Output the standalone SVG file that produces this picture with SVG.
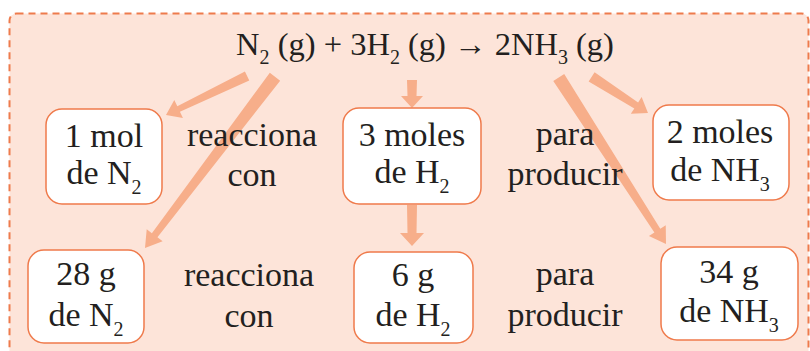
<svg xmlns="http://www.w3.org/2000/svg" width="810" height="351" viewBox="0 0 810 351">
<style>
.bg{fill:#fde4d9;stroke:#ee7b4c;stroke-width:2;stroke-dasharray:7,5}
.box{fill:#ffffff;stroke:#ef7a4b;stroke-width:1.5}
.arr{fill:#f7ae8a}
text{font-family:"Liberation Serif","Times New Roman",serif;font-size:34px;fill:#231f20;text-anchor:middle}
.eq{font-size:32.5px}
.sub{font-size:20px}
</style>
<rect class="bg" x="9.5" y="13.5" width="799" height="360" rx="7"/>
<g id="connectors">
<polygon class="arr" transform="translate(166,115) rotate(154.3)" points="0,0 -14,-10 -14,-3 -90,-5 -90,5 -14,3 -14,10"/>
<polygon class="arr" transform="translate(145,248) rotate(127.2)" points="0,0 -16,-10 -16,-3.5 -215,-6.5 -215,6.5 -16,3.5 -16,10"/>
<polygon class="arr" transform="translate(412,108) rotate(90)" points="0,0 -12,-11 -12,-4.5 -28,-5 -28,5 -12,4.5 -12,11"/>
<polygon class="arr" transform="translate(666,244) rotate(57.2)" points="0,0 -16,-10 -16,-3.5 -198,-6.5 -198,6.5 -16,3.5 -16,10"/>
<polygon class="arr" transform="translate(648,113) rotate(32.7)" points="0,0 -14,-10 -14,-3.5 -67,-5.5 -67,5.5 -14,3.5 -14,10"/>
<polygon class="arr" transform="translate(412,246) rotate(90)" points="0,0 -13,-12 -13,-4.5 -41,-5 -41,5 -13,4.5 -13,12"/>
</g>
<g id="equation">
<text class="eq" x="425" y="55">N<tspan class="sub" dy="9">2</tspan><tspan dy="-9"> (g) + 3H</tspan><tspan class="sub" dy="9">2</tspan><tspan dy="-9"> (g) → 2NH</tspan><tspan class="sub" dy="9">3</tspan><tspan dy="-9"> (g)</tspan></text>
</g>
<g id="n1mol">
<rect class="box" x="46" y="109" width="116" height="95" rx="16"/>
<text x="104" y="147">1 mol</text>
<text x="104" y="184">de N<tspan class="sub" dy="10">2</tspan></text>
</g>
<g id="lbl-reacciona1">
<text x="252" y="146">reacciona</text>
<text x="252" y="186">con</text>
</g>
<g id="n3moles">
<rect class="box" x="343" y="108" width="138" height="96" rx="16"/>
<text x="412" y="146">3 moles</text>
<text x="412" y="183">de H<tspan class="sub" dy="10">2</tspan></text>
</g>
<g id="lbl-para1">
<text x="565" y="145">para</text>
<text x="565" y="185">producir</text>
</g>
<g id="n2moles">
<rect class="box" x="653" y="105" width="136" height="95" rx="16"/>
<text x="720" y="143">2 moles</text>
<text x="720" y="181">de NH<tspan class="sub" dy="10">3</tspan></text>
</g>
<g id="n28g">
<rect class="box" x="28" y="250" width="116" height="93" rx="16"/>
<text x="86" y="285">28 g</text>
<text x="86" y="326">de N<tspan class="sub" dy="10">2</tspan></text>
</g>
<g id="lbl-reacciona2">
<text x="249" y="286">reacciona</text>
<text x="249" y="327">con</text>
</g>
<g id="n6g">
<rect class="box" x="354" y="252" width="119" height="91" rx="16"/>
<text x="413" y="286">6 g</text>
<text x="413" y="326">de H<tspan class="sub" dy="10">2</tspan></text>
</g>
<g id="lbl-para2">
<text x="565" y="285">para</text>
<text x="565" y="326">producir</text>
</g>
<g id="n34g">
<rect class="box" x="661" y="247" width="137" height="93" rx="16"/>
<text x="729" y="283">34 g</text>
<text x="729" y="322">de NH<tspan class="sub" dy="10">3</tspan></text>
</g>
</svg>
